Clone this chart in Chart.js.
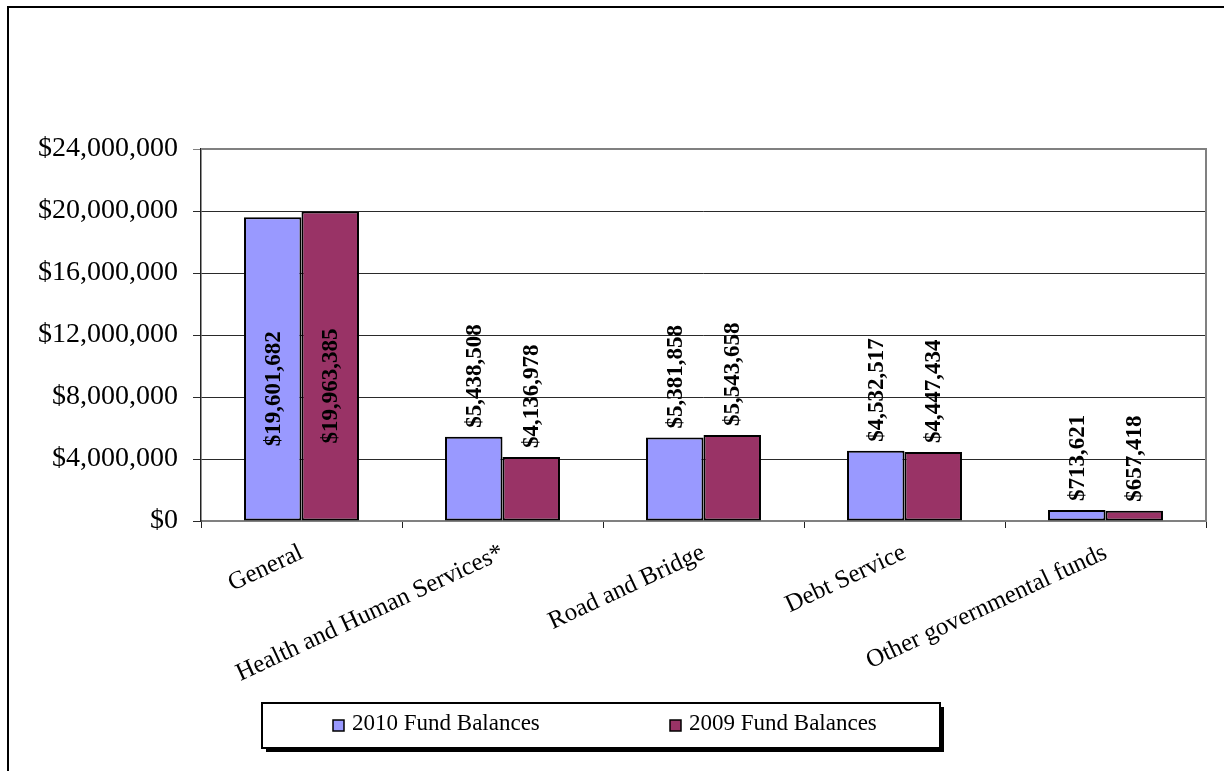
<!DOCTYPE html>
<html>
<head>
<meta charset="utf-8">
<script src="https://cdn.jsdelivr.net/npm/chart.js@4.4.0/dist/chart.umd.min.js"></script>
<style>
  html, body { margin: 0; padding: 0; background: #fff; }
  #wrap { width: 1224px; height: 771px; }
</style>
</head>
<body>
<div id="wrap"><canvas id="chart" width="1224" height="771"></canvas></div>
<script>
const categories = ["General", "Health and Human Services*", "Road and Bridge", "Debt Service", "Other governmental funds"];
const balances2010 = [19601682, 5438508, 5381858, 4532517, 713621];
const balances2009 = [19963385, 4136978, 5543658, 4447434, 657418];
const yTicks = [0, 4000000, 8000000, 12000000, 16000000, 20000000, 24000000];

const serif = '"Liberation Serif", "Times New Roman", serif';
const money = (v) => "$" + v.toLocaleString("en-US");

// frame around the whole picture + grey top/right of plot area
const frame = {
  id: "frame",
  beforeDraw(chart) {
    const { ctx } = chart;
    ctx.save();
    ctx.strokeStyle = "#000";
    ctx.lineWidth = 2;
    ctx.strokeRect(8, 7, 1240, 800);
    ctx.restore();
  },
  afterDraw(chart) {
    const { ctx, chartArea } = chart;
    ctx.save();
    ctx.strokeStyle = "#808080";
    ctx.lineWidth = 2;
    ctx.beginPath();
    ctx.moveTo(chartArea.left, chartArea.top);
    ctx.lineTo(chartArea.right, chartArea.top);
    ctx.lineTo(chartArea.right, chartArea.bottom);
    ctx.stroke();
    ctx.restore();
  }
};

// vertical value labels above bars (inside when no room)
const valueLabels = {
  id: "valueLabels",
  afterDatasetsDraw(chart) {
    const { ctx, chartArea } = chart;
    ctx.save();
    ctx.font = "bold 23px " + serif;
    ctx.fillStyle = "#000";
    chart.data.datasets.forEach((ds, i) => {
      chart.getDatasetMeta(i).data.forEach((bar, j) => {
        const text = money(ds.data[j]);
        const w = ctx.measureText(text).width;
        let yEnd = bar.y - 9;
        if (yEnd - w < chartArea.top) yEnd = (bar.y + bar.base) / 2 + 20 + w / 2;
        ctx.save();
        ctx.translate(bar.x, yEnd);
        ctx.rotate(-Math.PI / 2);
        ctx.textAlign = "left";
        ctx.textBaseline = "middle";
        ctx.fillText(text, 0, 1);
        ctx.restore();
      });
    });
    ctx.restore();
  }
};

// boxed legend with shadow at the bottom
const boxLegend = {
  id: "boxLegend",
  afterDraw(chart) {
    const { ctx } = chart;
    const x = 262, y = 703, w = 678, h = 45;
    ctx.save();
    ctx.fillStyle = "#000";
    ctx.fillRect(x + 4, y + 4, w, h);
    ctx.fillStyle = "#fff";
    ctx.fillRect(x, y, w, h);
    ctx.strokeStyle = "#000";
    ctx.lineWidth = 2;
    ctx.strokeRect(x, y, w, h);
    ctx.font = "23px " + serif;
    ctx.textBaseline = "middle";
    const starts = [333, 670];
    chart.data.datasets.forEach((ds, i) => {
      const sx = starts[i];
      ctx.fillStyle = ds.backgroundColor;
      ctx.fillRect(sx, y + 17, 11, 11);
      ctx.lineWidth = 1.5;
      ctx.strokeRect(sx, y + 17, 11, 11);
      ctx.fillStyle = "#000";
      ctx.textAlign = "left";
      ctx.fillText(ds.label, sx + 19, y + 21);
    });
    ctx.restore();
  }
};

new Chart(document.getElementById("chart"), {
  type: "bar",
  data: {
    labels: categories,
    datasets: [
      {
        label: "2010 Fund Balances",
        data: balances2010,
        backgroundColor: "#9999FF",
        borderColor: "#000",
        borderWidth: 2,
        borderSkipped: false,
      },
      {
        label: "2009 Fund Balances",
        data: balances2009,
        backgroundColor: "#993366",
        borderColor: "#000",
        borderWidth: 2,
        borderSkipped: false,
      },
    ],
  },
  options: {
    responsive: false,
    animation: false,
    layout: { padding: { left: 8, top: 149, right: 18, bottom: 0 } },
    datasets: { bar: { categoryPercentage: 0.572, barPercentage: 1 } },
    plugins: { legend: { display: false }, tooltip: { enabled: false } },
    scales: {
      x: {
        afterFit: (s) => { s.height = 250; },
        grid: { drawOnChartArea: false, color: "#222", tickLength: 7, offset: true },
        border: { color: "#808080", width: 2 },
        ticks: {
          color: "#000",
          font: { family: serif, size: 25 },
          minRotation: 25,
          maxRotation: 25,
          padding: 10,
        },
      },
      y: {
        min: 0,
        max: 24000000,
        afterFit: (s) => { s.width = 193; },
        afterBuildTicks: (s) => { s.ticks = yTicks.map((v) => ({ value: v })); },
        grid: {
          color: (c) => (c.tick && c.tick.value === 24000000 ? "#808080" : "#2a2a2a"),
          lineWidth: 1,
          tickLength: 8,
        },
        border: { color: "#222", width: 1.5 },
        ticks: {
          color: "#000",
          font: { family: serif, size: 28 },
          padding: 15,
          callback: (v) => money(v),
        },
      },
    },
  },
  plugins: [frame, valueLabels, boxLegend],
});
</script>
</body>
</html>
